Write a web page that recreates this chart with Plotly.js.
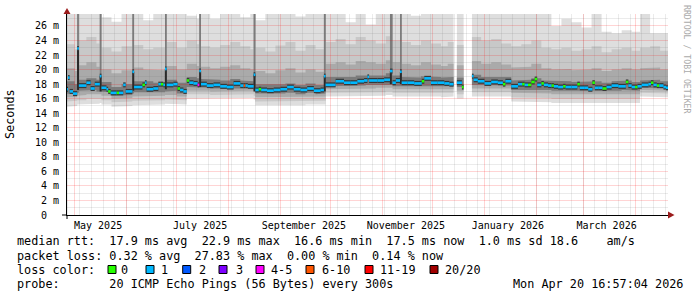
<!DOCTYPE html>
<html><head><meta charset="utf-8">
<script src="https://cdn.plot.ly/plotly-3.0.1.min.js"></script>
<style>html,body{margin:0;padding:0;background:#fff}#chart{width:697px;height:297px}</style>
</head><body><div id="chart"></div>
<script>
const rangeStart = '2025-04-26 09:45';
const rangeEnd = '2026-04-20 16:57';
const yMax = 27.65;

const medianDates = ['2025-04-26','2025-04-27','2025-04-28','2025-04-30','2025-05-02 12:00','2025-05-03 12:00','2025-05-08','2025-05-10 12:00','2025-05-13','2025-05-16','2025-05-17','2025-05-20','2025-05-21','2025-05-22 12:00','2025-05-26','2025-05-27 12:00','2025-05-30','2025-05-31 12:00','2025-06-04 12:00','2025-06-05 12:00','2025-06-10 12:00','2025-06-12','2025-06-13','2025-06-17','2025-06-20','2025-06-21 12:00','2025-06-23','2025-06-24','2025-06-25','2025-06-29','2025-07-01 12:00','2025-07-03','2025-07-05','2025-07-07','2025-07-08 12:00','2025-07-11','2025-07-13 12:00','2025-07-14 12:00','2025-07-15 12:00','2025-07-19','2025-07-23','2025-07-27','2025-07-31','2025-08-04','2025-08-08','2025-08-10','2025-08-11','2025-08-12 12:00','2025-08-16','2025-08-17','2025-08-19','2025-08-20 12:00','2025-08-24','2025-08-28','2025-09-01','2025-09-05','2025-09-09','2025-09-13','2025-09-17','2025-09-21','2025-09-25','2025-09-27','2025-09-28','2025-10-04','2025-10-09','2025-10-13','2025-10-17','2025-10-21','2025-10-23','2025-10-24','2025-10-29','2025-11-02','2025-11-05 12:00','2025-11-07','2025-11-09','2025-11-11 12:00','2025-11-12 12:00','2025-11-16','2025-11-20','2025-11-24 12:00','2025-11-26','2025-11-30','2025-12-04','2025-12-08','2025-12-11','2025-12-13 12:00','2025-12-15 12:00','2025-12-18 12:00','2025-12-19 12:00','2025-12-24 12:00','2025-12-25 12:00','2025-12-28','2026-01-01','2026-01-05','2026-01-09','2026-01-12','2026-01-13 12:00','2026-01-17','2026-01-21','2026-01-23 12:00','2026-01-25','2026-01-27','2026-01-29','2026-01-31','2026-02-01 12:00','2026-02-04','2026-02-05 12:00','2026-02-08','2026-02-10','2026-02-11 12:00','2026-02-14','2026-02-17','2026-02-18 12:00','2026-02-22','2026-02-25 12:00','2026-02-27','2026-03-02','2026-03-04','2026-03-06 12:00','2026-03-08','2026-03-10','2026-03-12 12:00','2026-03-15','2026-03-18','2026-03-22','2026-03-26 12:00','2026-03-28','2026-03-30','2026-04-01','2026-04-02 12:00','2026-04-05','2026-04-09','2026-04-10 12:00','2026-04-12','2026-04-14','2026-04-15 12:00','2026-04-18','2026-04-19 12:00','2026-04-20 16:57'];
const medianVals = [17.3,18.9,17.0,16.7,22.9,17.8,18.2,17.4,18.0,19.1,17.5,17.3,17.0,16.8,16.8,16.8,17.9,17.0,19.7,17.6,17.9,18.2,17.3,17.4,18.0,18.0,17.9,20.1,17.9,18.0,17.4,17.2,17.0,18.5,18.2,18.1,17.9,19.8,18.0,17.8,17.9,17.7,17.6,18.1,17.8,17.8,17.8,17.7,19.3,17.2,17.3,17.2,17.1,17.2,17.3,17.6,17.3,17.2,17.4,17.1,17.2,19.1,17.9,18.4,18.2,18.2,18.4,18.5,19.0,18.5,18.5,18.6,19.8,18.2,18.5,19.7,18.2,18.2,18.1,18.4,18.8,18.2,18.2,18.1,18.0,null,18.2,17.6,null,19.1,18.6,18.4,18.1,18.3,18.2,18.0,18.4,17.7,18.0,18.0,17.9,17.9,18.3,18.7,17.9,18.1,17.9,17.8,17.8,17.7,17.6,17.7,17.6,17.6,18.0,17.5,17.5,17.3,18.2,17.5,17.5,17.4,17.6,17.8,17.7,18.3,17.8,17.6,17.6,17.7,17.9,18.0,18.2,17.9,17.8,17.8,17.6,17.5,17.5];
const medianLoss = [1,1,1,1,1,1,1,1,1,1,1,1,0,1,0,1,1,1,1,1,0,1,1,1,1,0,1,1,1,1,0,1,1,0,1,1,4,1,1,1,1,1,1,1,1,5,1,1,1,1,0,1,1,1,1,1,1,1,1,1,1,1,1,1,1,1,1,1,1,1,1,1,1,1,1,1,1,1,1,0,1,1,1,1,1,null,1,0,null,1,1,1,1,1,1,0,1,1,1,0,1,0,0,0,1,0,1,1,0,1,1,0,1,1,0,1,1,1,0,1,1,0,1,1,1,0,1,1,0,1,1,1,0,1,0,1,1,1,1];

const smokeDates = ['2025-04-26','2025-05-01','2025-05-02 12:00','2025-05-03 12:00','2025-05-08','2025-05-14','2025-05-16','2025-05-17','2025-05-23','2025-05-29','2025-06-04 12:00','2025-06-05 12:00','2025-06-11','2025-06-17','2025-06-24','2025-06-25','2025-07-01','2025-07-07','2025-07-13','2025-07-14 12:00','2025-07-15 12:00','2025-07-21','2025-07-27','2025-08-02','2025-08-08','2025-08-14','2025-08-16','2025-08-17','2025-08-23','2025-08-29','2025-09-04','2025-09-10','2025-09-16','2025-09-22','2025-09-27','2025-09-28','2025-10-04','2025-10-10','2025-10-16','2025-10-22','2025-10-28','2025-11-03','2025-11-05 12:00','2025-11-07','2025-11-11 12:00','2025-11-12 12:00','2025-11-18','2025-11-24','2025-11-30','2025-12-06','2025-12-10','2025-12-13 12:00','2025-12-15 12:00','2025-12-19 12:00','2025-12-24 12:00','2025-12-30','2026-01-05','2026-01-11','2026-01-17','2026-01-23','2026-01-29','2026-02-04','2026-02-10','2026-02-16','2026-02-22','2026-02-28','2026-03-06','2026-03-12','2026-03-18','2026-03-24','2026-03-30','2026-04-04','2026-04-10','2026-04-16','2026-04-20 16:57'];
const smokeBot = [14.9,15.0,15.2,15.2,15.3,15.3,15.4,15.2,14.9,15.0,15.1,15.2,15.1,15.2,15.3,15.3,15.2,16.0,16.0,16.1,16.0,16.0,16.1,16.1,16.0,16.1,15.9,15.1,15.1,15.0,15.1,15.1,15.2,15.1,15.2,16.3,16.3,16.4,16.3,16.4,16.4,16.5,16.5,16.3,16.4,16.3,16.3,16.4,16.3,16.2,16.3,null,16.0,null,16.3,16.3,16.4,16.3,15.6,15.5,15.6,15.5,15.4,15.5,15.4,15.5,15.4,15.4,15.5,15.5,15.4,16.3,16.3,16.2,16.2];
const smokeLo2 = [15.6,15.7,15.8,15.8,16.0,15.9,16.0,15.8,15.5,15.6,15.7,15.8,15.7,15.8,15.9,15.9,15.8,16.6,16.6,16.7,16.6,16.5,16.6,16.6,16.5,16.6,16.4,15.6,15.6,15.6,15.7,15.6,15.7,15.6,15.7,16.8,16.8,16.9,16.8,16.9,16.9,17.0,17.0,16.8,16.9,16.8,16.8,16.9,16.8,16.8,16.8,null,16.6,null,16.9,16.9,16.9,16.9,16.2,16.1,16.2,16.1,16.0,16.1,16.0,16.1,16.0,16.0,16.1,16.1,16.0,16.8,16.8,16.7,16.7];
const smokeLo3 = [16.2,16.2,16.4,16.5,16.6,16.5,16.6,16.4,16.0,16.1,16.3,16.4,16.3,16.4,16.5,16.5,16.3,17.1,17.1,17.2,17.1,17.0,17.1,17.1,17.0,17.1,16.9,16.2,16.2,16.2,16.3,16.2,16.3,16.2,16.3,17.3,17.3,17.4,17.3,17.4,17.5,17.5,17.5,17.3,17.4,17.3,17.3,17.4,17.3,17.3,17.3,null,17.1,null,17.4,17.4,17.4,17.4,16.8,16.7,16.8,16.7,16.6,16.7,16.6,16.6,16.6,16.6,16.7,16.7,16.6,17.2,17.2,17.1,17.1];
const smokeLo4 = [16.7,16.6,16.8,17.1,17.2,17.0,17.0,16.9,16.4,16.5,16.7,16.9,16.8,16.9,17.0,17.1,16.7,17.6,17.6,17.6,17.5,17.4,17.4,17.5,17.4,17.4,17.2,16.7,16.6,16.7,16.8,16.6,16.8,16.6,16.7,17.7,17.8,17.8,17.8,17.9,17.9,18.0,17.9,17.7,17.8,17.7,17.7,17.8,17.7,17.7,17.7,null,17.6,null,17.9,17.8,17.8,17.8,17.2,17.2,17.3,17.2,17.1,17.1,17.1,17.0,17.0,17.0,17.1,17.2,17.1,17.5,17.5,17.4,17.4];
const smokeHi4 = [18.4,18.0,27.65,18.6,18.8,18.6,27.65,18.3,17.6,18.0,27.65,18.4,18.4,18.2,27.65,18.6,18.2,19.0,18.8,27.65,18.7,18.6,18.5,18.7,18.5,18.4,27.65,18.0,17.9,18.0,18.1,17.9,18.1,17.9,27.65,19.0,19.1,19.0,19.2,19.3,19.2,19.5,27.65,19.2,27.65,19.0,18.9,19.1,19.0,18.9,19.0,null,18.9,null,19.3,19.0,19.1,19.0,18.5,18.6,18.8,18.5,18.4,18.4,18.3,18.3,18.4,18.2,18.4,18.5,18.3,18.5,18.6,18.4,18.4];
const smokeHi3 = [20.2,19.8,27.65,20.6,21.0,20.4,27.65,20.0,19.5,19.9,27.65,20.3,20.0,19.9,27.65,20.5,20.0,20.8,20.5,27.65,20.4,20.2,20.4,20.6,20.2,20.0,27.65,19.8,19.5,19.9,20.2,19.6,20.0,19.7,27.65,20.8,21.0,20.7,21.2,21.0,20.8,21.3,27.65,21.0,27.65,20.8,20.6,21.0,20.7,20.5,20.8,null,20.6,null,21.2,20.8,21.0,20.7,20.3,20.4,20.8,20.2,20.0,20.1,19.9,20.0,20.2,19.8,20.0,20.2,20.0,20.2,20.3,20.0,20.0];
const smokeHi2 = [23.5,22.8,27.65,24.0,24.5,23.6,27.65,23.0,22.5,23.2,27.65,23.4,22.8,23.0,27.65,23.8,23.0,24.0,23.5,27.65,23.2,23.0,23.4,23.8,23.2,22.8,27.65,23.0,22.5,23.3,23.8,22.6,23.4,22.8,27.65,23.8,24.2,23.5,24.5,24.0,23.6,24.6,27.65,24.0,27.65,23.8,23.4,24.0,23.6,23.2,23.8,null,23.4,null,24.5,24.0,24.2,23.6,23.2,23.5,24.0,23.0,22.8,23.0,22.6,22.8,23.2,22.4,22.8,23.0,22.6,23.0,23.2,22.6,22.6];
const smokeTop = [27.65,27.65,27.65,27.65,27.65,27.65,27.65,27.2,26.6,27.65,27.65,27.65,26.8,27.65,27.65,27.65,27.65,27.4,27.0,27.65,27.65,27.0,27.65,27.65,27.2,27.65,27.65,26.8,27.65,27.65,27.65,27.3,27.65,27.65,27.65,27.65,27.65,26.5,27.65,26.2,27.65,27.65,27.65,27.65,27.65,27.65,27.4,27.65,27.65,27.65,27.65,null,27.65,null,27.65,27.65,27.65,27.65,27.65,27.65,27.65,27.65,26.0,27.0,26.5,25.8,27.65,25.2,25.0,25.4,25.2,27.65,25.0,25.0,25.0];

const spikeDates = ['2025-05-03','2025-05-16 12:00','2025-06-05','2025-06-24 12:00','2025-07-15','2025-08-16 12:00','2025-09-27 12:00','2025-11-06','2025-11-12'];
const spikeLow = [17.2,17.0,17.1,17.3,17.6,17.0,17.0,18.0,18.0];
const spikeHigh = [22.9,19.1,19.7,20.1,19.8,19.3,19.1,19.8,19.7];

const lossLabels = ['0','1','2','3','4-5','6-10','11-19','20/20'];
const lossColors = ['#26ff00','#00b8ff','#0059ff','#7e00ff','#ff00ff','#ff5500','#ff0000','#a10000'];

const xTickDates = ['2025-05-15','2025-07-15','2025-09-15','2025-11-15','2026-01-15','2026-03-15'];
const xTickLabels = ['May 2025','July 2025','September 2025','November 2025','January 2026','March 2026'];
const yTickVals = [0,2,4,6,8,10,12,14,16,18,20,22,24,26];
const yTickText = ['0\u00a0\u00a0','2 m','4 m','6 m','8 m','10 m','12 m','14 m','16 m','18 m','20 m','22 m','24 m','26 m'];

const statLines = [
  'median rtt:  17.9 ms avg  22.9 ms max  16.6 ms min  17.5 ms now  1.0 ms sd 18.6    am/s',
  'packet loss: 0.32 % avg  27.83 % max  0.00 % min  0.14 % now',
  'loss color:',
  'probe:       20 ICMP Echo Pings (56 Bytes) every 300s'
];
const stampText = 'Mon Apr 20 16:57:04 2026';

function stepChunks(dates, series) {
  const out = []; let cur = null;
  for (let i = 0; i < dates.length - 1; i++) {
    if (series[0][i] === null) { cur = null; continue; }
    if (!cur) { cur = {x: [], ys: series.map(() => [])}; out.push(cur); }
    cur.x.push(dates[i], dates[i + 1]);
    series.forEach((s, k) => cur.ys[k].push(s[i], s[i]));
  }
  return out;
}
const lineTrace = (x, y, width, color, dash) => ({x, y, mode: 'lines', line: {width, color, dash: dash || 'solid'}, hoverinfo: 'skip', connectgaps: false});

const traces = [];
const bandColors = ['#dedede', '#c8c8c8', '#aaaaaa', '#7c7c7c'];
stepChunks(smokeDates, [smokeBot, smokeTop, smokeLo2, smokeHi2, smokeLo3, smokeHi3, smokeLo4, smokeHi4]).forEach(c => {
  for (let b = 0; b < 4; b++) {
    traces.push({x: c.x, y: c.ys[2 * b], mode: 'lines', line: {width: 0}, hoverinfo: 'skip'});
    traces.push({x: c.x, y: c.ys[2 * b + 1], mode: 'lines', line: {width: 0}, fill: 'tonexty', fillcolor: bandColors[b], hoverinfo: 'skip'});
  }
});

// faint grid over the smoke (weekly / 1 m minor, monthly / 2 m major)
const endMs = Date.parse('2026-04-20T16:57:00Z');
const iso = ms => new Date(ms).toISOString().slice(0, 16).replace('T', ' ');
const gridIdx = [];
const addGrid = (x, y, color) => { gridIdx.push(traces.length); traces.push(lineTrace(x, y, 1, color)); };
const minorCol = 'rgba(110,110,110,0.14)', majorCol = 'rgba(255,0,0,0.17)';
for (let t = Date.UTC(2025, 3, 27); t <= endMs; t += 7 * 86400000) addGrid([iso(t), iso(t)], [0, yMax], minorCol);
for (let v = 1; v <= 27; v += 2) addGrid([rangeStart, rangeEnd], [v, v], minorCol);
for (let m = 0; ; m++) {
  const t = Date.UTC(2025, 4 + m, 1); if (t > endMs) break;
  addGrid([iso(t), iso(t)], [0, yMax], majorCol);
}
for (let v = 2; v <= 26; v += 2) addGrid([rangeStart, rangeEnd], [v, v], majorCol);

const spx = [], spy = [];
spikeDates.forEach((d, i) => { spx.push(d, d, null); spy.push(spikeLow[i], spikeHigh[i], null); });
traces.push(lineTrace(spx, spy, 2, '#2a2a2a'));

const medChunks = stepChunks(medianDates, [medianVals, medianLoss]);
const core = {x: [], y: []};
const segs = lossColors.map(() => ({x: [], y: []}));
medChunks.forEach(c => {
  for (let j = 0; j < c.x.length; j += 2) {
    core.x.push(c.x[j], c.x[j + 1], null); core.y.push(c.ys[0][j], c.ys[0][j], null);
    const s = segs[c.ys[1][j]];
    s.x.push(c.x[j], c.x[j + 1], null); s.y.push(c.ys[0][j], c.ys[0][j], null);
  }
});
traces.push(lineTrace(core.x, core.y, 5, '#383838'));
segs.forEach((s, k) => { if (s.x.length) traces.push(lineTrace(s.x, s.y, 2.6, lossColors[k])); });

const L = 67, T = 14, W = 601, H = 201;
const px = x => (x - L) / W;
const py = y => (T + H - y) / H;
const mono = 'DejaVu Sans Mono, monospace';
const nb = s => s.replace(/ /g, '\u00a0');

const annotations = [];
function txt(text, x, y, extra) {
  annotations.push(Object.assign({xref: 'paper', yref: 'paper', x: px(x), y: py(y), text: nb(text), showarrow: false,
    xanchor: 'left', yanchor: 'middle', borderpad: 0, font: {family: mono, size: 11.8, color: '#000'}}, extra || {}));
}
txt('Seconds', 10, 114, {xanchor: 'center', textangle: -90});
txt('RRDTOOL / TOBI OETIKER', 687, 59, {xanchor: 'center', textangle: 90, font: {family: mono, size: 8.2, color: '#aaaaaa'}});
txt(statLines[0], 16, 241);
txt(statLines[1], 16, 255.5);
txt(statLines[2], 16, 269.5);
txt(statLines[3], 16, 283.5);
txt(stampText, 512, 283.5);

const legendBoxX = [108, 146, 182.7, 219, 256, 306, 365, 430];
const legendLabelX = [120.7, 161, 199, 236, 270.7, 321.7, 379.3, 445];
const shapes = [];
lossLabels.forEach((lab, k) => {
  shapes.push({type: 'rect', xref: 'paper', yref: 'paper', x0: px(legendBoxX[k]), x1: px(legendBoxX[k] + 8), y0: py(273.5), y1: py(265.5),
    fillcolor: lossColors[k], line: {color: '#000', width: 1}});
  txt(lab, legendLabelX[k] - 0.8, 269.5);
});
const arrowCol = '#9b1c1c';
shapes.push({type: 'path', xref: 'paper', yref: 'paper', path: `M${px(67)},${py(8)} L${px(63.5)},${py(14)} L${px(70.5)},${py(14)} Z`, fillcolor: arrowCol, line: {width: 0}});
shapes.push({type: 'path', xref: 'paper', yref: 'paper', path: `M${px(674.5)},${py(215)} L${px(668)},${py(211.5)} L${px(668)},${py(218.5)} Z`, fillcolor: arrowCol, line: {width: 0}});
shapes.push({type: 'line', xref: 'paper', yref: 'paper', x0: px(62), x1: px(67), y0: py(215), y1: py(215), line: {color: '#000', width: 1}});
shapes.push({type: 'line', xref: 'paper', yref: 'paper', x0: px(67), x1: px(67), y0: py(215), y1: py(219), line: {color: '#000', width: 1}});

const layout = {
  width: 697, height: 297,
  margin: {l: L, r: 697 - L - W, t: T, b: 297 - T - H, pad: 0},
  paper_bgcolor: '#ffffff', plot_bgcolor: '#ffffff',
  showlegend: false,
  xaxis: {type: 'date', range: [rangeStart, rangeEnd], showgrid: false, zeroline: false, showline: true, linecolor: '#000', linewidth: 1,
    tickmode: 'array', tickvals: xTickDates, ticktext: xTickLabels, ticks: 'outside', ticklen: 1, tickcolor: 'rgba(0,0,0,0)',
    tickfont: {family: mono, size: 10, color: '#000'}},
  yaxis: {range: [0, yMax], showgrid: false, zeroline: false, showline: true, linecolor: '#000', linewidth: 1,
    tickmode: 'array', tickvals: yTickVals, ticktext: yTickText, ticks: 'outside', ticklen: 5, tickcolor: 'rgba(0,0,0,0)',
    tickfont: {family: mono, size: 10, color: '#000'}},
  annotations: annotations,
  shapes: shapes
};

Plotly.newPlot('chart', traces, layout, {staticPlot: true, displayModeBar: false}).then(gd => {
  const groups = gd.querySelectorAll('g.scatterlayer g.trace');
  gridIdx.forEach(i => {
    const g = groups[i]; if (!g) return;
    g.querySelectorAll('path.js-line').forEach(p => p.setAttribute('shape-rendering', 'crispEdges'));
  });
});
</script>
</body></html>
